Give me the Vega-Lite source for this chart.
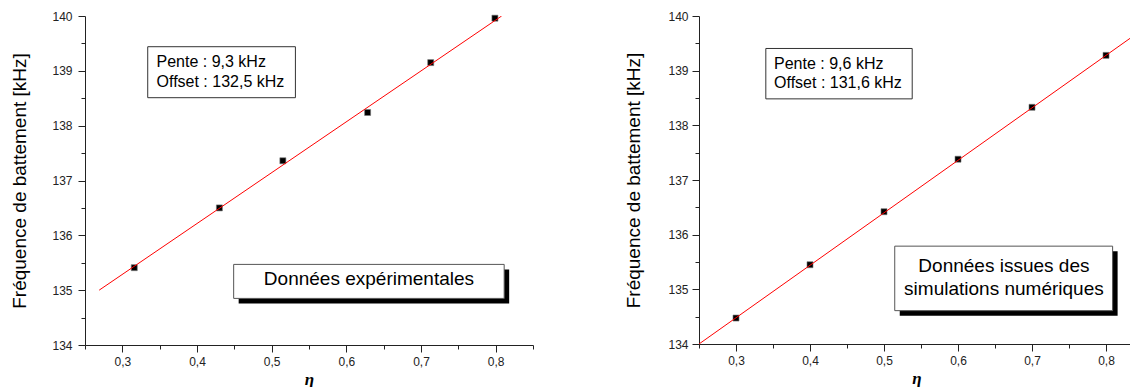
{
  "$schema": "https://vega.github.io/schema/vega-lite/v6.json",
  "background": "white",
  "padding": {"left": 10, "top": 10, "right": 0, "bottom": 0},
  "spacing": 90,
  "config": {
    "view": {"stroke": null},
    "font": "Liberation Sans",
    "axis": {
      "grid": false,
      "domainColor": "#222",
      "domainWidth": 1,
      "tickColor": "#222",
      "tickWidth": 1,
      "tickCount": 40,
      "labelFont": "Liberation Sans",
      "labelFontSize": 12,
      "labelColor": "#222",
      "labelOverlap": false,
      "labelFlush": false,
      "titleFont": "Liberation Sans",
      "titleFontWeight": "normal",
      "titleColor": "#000"
    }
  },
  "datasets": {
    "exp": [
      {"eta": 0.316, "f": 135.41},
      {"eta": 0.43, "f": 136.5},
      {"eta": 0.515, "f": 137.36},
      {"eta": 0.6285, "f": 138.24},
      {"eta": 0.713, "f": 139.15},
      {"eta": 0.799, "f": 139.96}
    ],
    "fitExp": [
      {"eta": 0.269, "f": 135.0},
      {"eta": 0.808, "f": 140.0}
    ],
    "sim": [
      {"eta": 0.3, "f": 134.475},
      {"eta": 0.4, "f": 135.45},
      {"eta": 0.5, "f": 136.42},
      {"eta": 0.6, "f": 137.38},
      {"eta": 0.7, "f": 138.33},
      {"eta": 0.8, "f": 139.28}
    ],
    "fitSim": [
      {"eta": 0.25, "f": 134.0},
      {"eta": 0.85, "f": 139.76}
    ],
    "one": [{}]
  },
  "hconcat": [
    {
      "width": 448,
      "height": 329,
      "layer": [
        {
          "data": {"name": "exp"},
          "mark": {"type": "point", "shape": "square", "filled": true, "size": 36, "color": "#000", "opacity": 1, "stroke": "#777", "strokeWidth": 0.6},
          "encoding": {
            "x": {"field": "eta", "type": "quantitative",
              "scale": {"domain": [0.25, 0.85], "nice": false, "zero": false},
              "axis": {
                "values": [0.25, 0.3, 0.35, 0.4, 0.45, 0.5, 0.55, 0.6, 0.65, 0.7, 0.75, 0.8, 0.85],
                "tickCount": 40,
                "labelExpr": "((datum.value*20) % 2 < 0.5 || (datum.value*20) % 2 > 1.5) ? replace(format(datum.value, '.1f'), '.', ',') : ''",
                "tickSize": {"condition": {"test": "(datum.value*20) % 2 < 0.5 || (datum.value*20) % 2 > 1.5", "value": 7}, "value": 4},
                "labelPadding": 4,
                "title": "η",
                "titleFont": "Liberation Serif",
                "titleFontStyle": "italic",
                "titleFontWeight": "bold",
                "titleFontSize": 17,
                "titlePadding": 4
              }
            },
            "y": {"field": "f", "type": "quantitative",
              "scale": {"domain": [134, 140], "nice": false, "zero": false},
              "axis": {
                "values": [134, 134.5, 135, 135.5, 136, 136.5, 137, 137.5, 138, 138.5, 139, 139.5, 140],
                "tickCount": 40,
                "labelExpr": "datum.value % 1 == 0 ? format(datum.value, 'd') : ''",
                "tickSize": {"condition": {"test": "datum.value % 1 == 0", "value": 7}, "value": 4},
                "labelPadding": 6,
                "title": "Fréquence de battement [kHz]",
                "titleFontSize": 19,
                "titlePadding": 22
              }
            }
          }
        },
        {
          "data": {"name": "fitExp"},
          "mark": {"type": "line", "color": "#ff0000", "strokeWidth": 1, "clip": true},
          "encoding": {
            "x": {"field": "eta", "type": "quantitative"},
            "y": {"field": "f", "type": "quantitative"}
          }
        },
        {
          "data": {"name": "one"},
          "mark": {"type": "rect", "fill": "white", "stroke": "#333", "strokeWidth": 1},
          "encoding": {
            "x": {"datum": 0.334, "type": "quantitative"},
            "x2": {"datum": 0.5318},
            "y": {"datum": 139.44, "type": "quantitative"},
            "y2": {"datum": 138.51}
          }
        },
        {
          "data": {"name": "one"},
          "mark": {"type": "text", "text": ["Pente : 9,3 kHz", "Offset : 132,5 kHz"], "align": "left", "baseline": "middle", "fontSize": 16, "lineHeight": 19.4, "color": "#000", "font": "Liberation Sans"},
          "encoding": {
            "x": {"datum": 0.3458, "type": "quantitative"},
            "y": {"datum": 139.156, "type": "quantitative"}
          }
        },
        {
          "data": {"name": "one"},
          "mark": {"type": "rect", "fill": "#000", "xOffset": 5, "x2Offset": 5, "yOffset": 5, "y2Offset": 5},
          "encoding": {
            "x": {"datum": 0.4491, "type": "quantitative"},
            "x2": {"datum": 0.8114},
            "y": {"datum": 135.47, "type": "quantitative"},
            "y2": {"datum": 134.85}
          }
        },
        {
          "data": {"name": "one"},
          "mark": {"type": "rect", "fill": "white", "stroke": "#555", "strokeWidth": 1},
          "encoding": {
            "x": {"datum": 0.4491, "type": "quantitative"},
            "x2": {"datum": 0.8114},
            "y": {"datum": 135.47, "type": "quantitative"},
            "y2": {"datum": 134.85}
          }
        },
        {
          "data": {"name": "one"},
          "mark": {"type": "text", "text": "Données expérimentales", "align": "center", "baseline": "middle", "fontSize": 19, "color": "#000", "font": "Liberation Sans"},
          "encoding": {
            "x": {"datum": 0.6303, "type": "quantitative"},
            "y": {"datum": 135.198, "type": "quantitative"}
          }
        }
      ]
    },
    {
      "width": 435,
      "height": 328,
      "layer": [
        {
          "data": {"name": "sim"},
          "mark": {"type": "point", "shape": "square", "filled": true, "size": 36, "color": "#000", "opacity": 1, "stroke": "#777", "strokeWidth": 0.6},
          "encoding": {
            "x": {"field": "eta", "type": "quantitative",
              "scale": {"domain": [0.25, 0.8378], "nice": false, "zero": false},
              "axis": {
                "values": [0.25, 0.3, 0.35, 0.4, 0.45, 0.5, 0.55, 0.6, 0.65, 0.7, 0.75, 0.8],
                "tickCount": 40,
                "labelExpr": "((datum.value*20) % 2 < 0.5 || (datum.value*20) % 2 > 1.5) ? replace(format(datum.value, '.1f'), '.', ',') : ''",
                "tickSize": {"condition": {"test": "(datum.value*20) % 2 < 0.5 || (datum.value*20) % 2 > 1.5", "value": 7}, "value": 4},
                "labelPadding": 4,
                "title": "η",
                "titleFont": "Liberation Serif",
                "titleFontStyle": "italic",
                "titleFontWeight": "bold",
                "titleFontSize": 17,
                "titlePadding": 4
              }
            },
            "y": {"field": "f", "type": "quantitative",
              "scale": {"domain": [134, 140], "nice": false, "zero": false},
              "axis": {
                "values": [134, 134.5, 135, 135.5, 136, 136.5, 137, 137.5, 138, 138.5, 139, 139.5, 140],
                "tickCount": 40,
                "labelExpr": "datum.value % 1 == 0 ? format(datum.value, 'd') : ''",
                "tickSize": {"condition": {"test": "datum.value % 1 == 0", "value": 7}, "value": 4},
                "labelPadding": 4,
                "title": "Fréquence de battement [kHz]",
                "titleFontSize": 19,
                "titlePadding": 24
              }
            }
          }
        },
        {
          "data": {"name": "fitSim"},
          "mark": {"type": "line", "color": "#ff0000", "strokeWidth": 1, "clip": true},
          "encoding": {
            "x": {"field": "eta", "type": "quantitative"},
            "y": {"field": "f", "type": "quantitative"}
          }
        },
        {
          "data": {"name": "one"},
          "mark": {"type": "rect", "fill": "white", "stroke": "#333", "strokeWidth": 1},
          "encoding": {
            "x": {"datum": 0.3403, "type": "quantitative"},
            "x2": {"datum": 0.5381},
            "y": {"datum": 139.406, "type": "quantitative"},
            "y2": {"datum": 138.484}
          }
        },
        {
          "data": {"name": "one"},
          "mark": {"type": "text", "text": ["Pente : 9,6 kHz", "Offset : 131,6 kHz"], "align": "left", "baseline": "middle", "fontSize": 16, "lineHeight": 19.4, "color": "#000", "font": "Liberation Sans"},
          "encoding": {
            "x": {"datum": 0.3514, "type": "quantitative"},
            "y": {"datum": 139.122, "type": "quantitative"}
          }
        },
        {
          "data": {"name": "one"},
          "mark": {"type": "rect", "fill": "#000", "xOffset": 5, "x2Offset": 5, "yOffset": 5, "y2Offset": 5},
          "encoding": {
            "x": {"datum": 0.5145, "type": "quantitative"},
            "x2": {"datum": 0.8089},
            "y": {"datum": 135.79, "type": "quantitative"},
            "y2": {"datum": 134.61}
          }
        },
        {
          "data": {"name": "one"},
          "mark": {"type": "rect", "fill": "white", "stroke": "#555", "strokeWidth": 1},
          "encoding": {
            "x": {"datum": 0.5145, "type": "quantitative"},
            "x2": {"datum": 0.8089},
            "y": {"datum": 135.79, "type": "quantitative"},
            "y2": {"datum": 134.61}
          }
        },
        {
          "data": {"name": "one"},
          "mark": {"type": "text", "text": ["Données issues des", "simulations numériques"], "align": "center", "baseline": "middle", "fontSize": 19, "lineHeight": 23.3, "color": "#000", "font": "Liberation Sans"},
          "encoding": {
            "x": {"datum": 0.662, "type": "quantitative"},
            "y": {"datum": 135.431, "type": "quantitative"}
          }
        }
      ]
    }
  ]
}
